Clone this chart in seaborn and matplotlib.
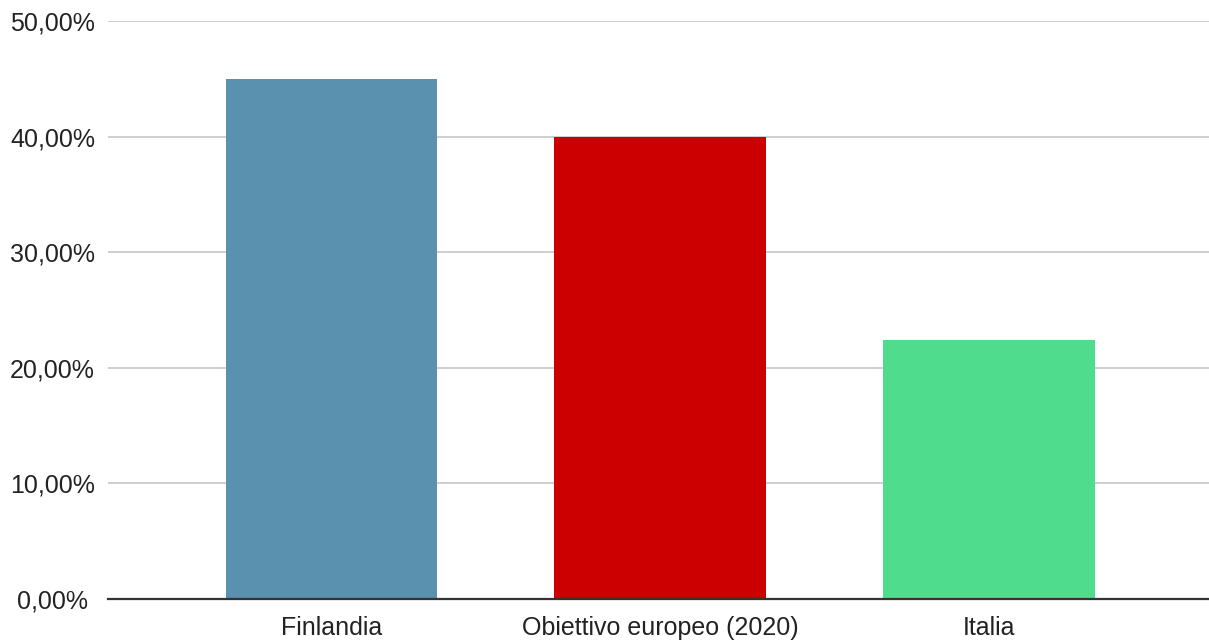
import pandas as pd
import matplotlib.pyplot as plt
import seaborn as sns
from matplotlib.ticker import FuncFormatter

# --- Data ---
categories = ['Finlandia', 'Obiettivo europeo (2020)', 'Italia']
values = [45.0, 40.0, 22.4]
colors = ['#5a91af', '#cc0000', '#4fdc8c']

df = pd.DataFrame({'paese': categories, 'valore': values})

sns.set_style("white")
plt.rcParams['font.family'] = ['Liberation Sans', 'DejaVu Sans']

fig = plt.figure(figsize=(12.09, 6.42), dpi=100)
ax = fig.add_axes([108 / 1209, 43 / 642, 1 - 108 / 1209, 578 / 642])

sns.barplot(x='paese', y='valore', data=df, hue='paese', palette=colors,
            legend=False, width=0.644, saturation=1, linewidth=0, ax=ax)

ax.set_ylim(0, 50)
ax.set_xlim(-0.68, 2.67)
ax.set_yticks([0, 10, 20, 30, 40, 50])
ax.yaxis.set_major_formatter(FuncFormatter(lambda v, p: f'{v:.2f}'.replace('.', ',') + '%'))
ax.grid(axis='y', color='#cccccc', linewidth=1.3)
ax.set_axisbelow(True)

for s in ['top', 'right', 'left']:
    ax.spines[s].set_visible(False)
ax.spines['bottom'].set_color('#333333')
ax.spines['bottom'].set_linewidth(1.6)
ax.spines['bottom'].set_zorder(5)

# y labels are centred around x ~ 52 px
ax.tick_params(axis='y', length=0, pad=40, labelsize=18, labelcolor='#222222')
for lbl in ax.get_yticklabels():
    lbl.set_horizontalalignment('center')
ax.tick_params(axis='x', length=0, pad=12, labelsize=18, labelcolor='#222222')
ax.set_xlabel('')
ax.set_ylabel('')

plt.savefig('out.png', dpi=100)
plt.close()
